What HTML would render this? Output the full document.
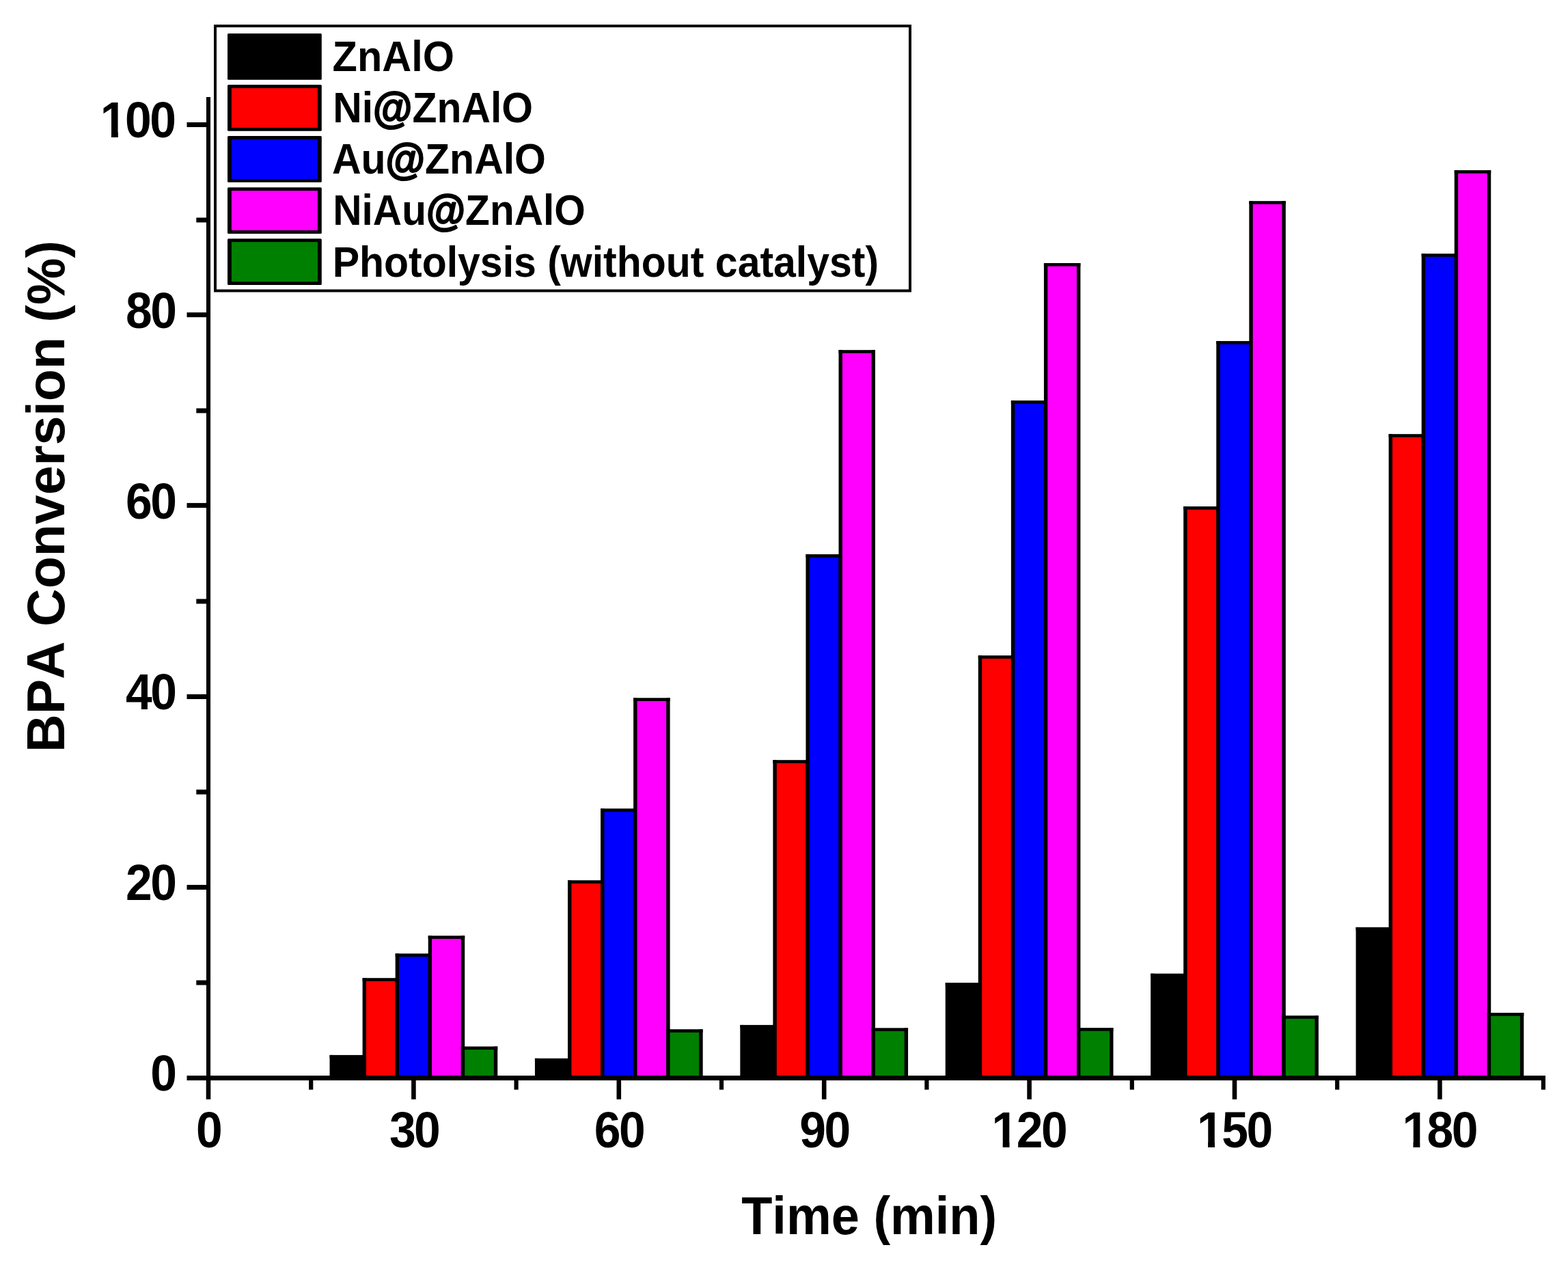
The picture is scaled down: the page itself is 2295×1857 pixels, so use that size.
<!DOCTYPE html>
<html><head><meta charset="utf-8"><title>BPA Conversion vs Time</title>
<style>
html,body{margin:0;padding:0;background:#fff;}
body{width:2295px;height:1857px;overflow:hidden;}
svg{display:block;}
text{font-family:"Liberation Sans",Arial,sans-serif;font-weight:bold;fill:#000;font-kerning:none;}
</style></head><body>
<svg width="2295" height="1857" viewBox="0 0 2295 1857">
<rect x="0" y="0" width="2295" height="1857" fill="#fff"/>
<g id="bars">
<rect x="485.24" y="1546.20" width="48.06" height="31.30" fill="#000000"/>
<rect x="482.54" y="1543.90" width="53.46" height="4.60" fill="#000"/>
<rect x="482.54" y="1543.90" width="5.40" height="33.60" fill="#000"/>
<rect x="530.60" y="1543.90" width="5.40" height="33.60" fill="#000"/>
<rect x="533.30" y="1433.50" width="48.06" height="144.00" fill="#ff0000"/>
<rect x="530.60" y="1431.20" width="53.46" height="4.60" fill="#000"/>
<rect x="530.60" y="1431.20" width="5.40" height="146.30" fill="#000"/>
<rect x="578.67" y="1431.20" width="5.40" height="146.30" fill="#000"/>
<rect x="581.37" y="1397.70" width="48.06" height="179.80" fill="#0000ff"/>
<rect x="578.67" y="1395.40" width="53.46" height="4.60" fill="#000"/>
<rect x="578.67" y="1395.40" width="5.40" height="182.10" fill="#000"/>
<rect x="626.73" y="1395.40" width="5.40" height="182.10" fill="#000"/>
<rect x="629.43" y="1371.60" width="48.06" height="205.90" fill="#ff00ff"/>
<rect x="626.73" y="1369.30" width="53.46" height="4.60" fill="#000"/>
<rect x="626.73" y="1369.30" width="5.40" height="208.20" fill="#000"/>
<rect x="674.80" y="1369.30" width="5.40" height="208.20" fill="#000"/>
<rect x="677.50" y="1533.70" width="48.06" height="43.80" fill="#008000"/>
<rect x="674.80" y="1531.40" width="53.46" height="4.60" fill="#000"/>
<rect x="674.80" y="1531.40" width="5.40" height="46.10" fill="#000"/>
<rect x="722.86" y="1531.40" width="5.40" height="46.10" fill="#000"/>
<rect x="785.64" y="1551.10" width="48.06" height="26.40" fill="#000000"/>
<rect x="782.94" y="1548.80" width="53.46" height="4.60" fill="#000"/>
<rect x="782.94" y="1548.80" width="5.40" height="28.70" fill="#000"/>
<rect x="831.00" y="1548.80" width="5.40" height="28.70" fill="#000"/>
<rect x="833.70" y="1290.50" width="48.06" height="287.00" fill="#ff0000"/>
<rect x="831.00" y="1288.20" width="53.46" height="4.60" fill="#000"/>
<rect x="831.00" y="1288.20" width="5.40" height="289.30" fill="#000"/>
<rect x="879.07" y="1288.20" width="5.40" height="289.30" fill="#000"/>
<rect x="881.77" y="1185.50" width="48.06" height="392.00" fill="#0000ff"/>
<rect x="879.07" y="1183.20" width="53.46" height="4.60" fill="#000"/>
<rect x="879.07" y="1183.20" width="5.40" height="394.30" fill="#000"/>
<rect x="927.13" y="1183.20" width="5.40" height="394.30" fill="#000"/>
<rect x="929.83" y="1023.60" width="48.06" height="553.90" fill="#ff00ff"/>
<rect x="927.13" y="1021.30" width="53.46" height="4.60" fill="#000"/>
<rect x="927.13" y="1021.30" width="5.40" height="556.20" fill="#000"/>
<rect x="975.20" y="1021.30" width="5.40" height="556.20" fill="#000"/>
<rect x="977.90" y="1508.50" width="48.06" height="69.00" fill="#008000"/>
<rect x="975.20" y="1506.20" width="53.46" height="4.60" fill="#000"/>
<rect x="975.20" y="1506.20" width="5.40" height="71.30" fill="#000"/>
<rect x="1023.26" y="1506.20" width="5.40" height="71.30" fill="#000"/>
<rect x="1086.04" y="1502.20" width="48.06" height="75.30" fill="#000000"/>
<rect x="1083.34" y="1499.90" width="53.46" height="4.60" fill="#000"/>
<rect x="1083.34" y="1499.90" width="5.40" height="77.60" fill="#000"/>
<rect x="1131.40" y="1499.90" width="5.40" height="77.60" fill="#000"/>
<rect x="1134.10" y="1114.50" width="48.06" height="463.00" fill="#ff0000"/>
<rect x="1131.40" y="1112.20" width="53.46" height="4.60" fill="#000"/>
<rect x="1131.40" y="1112.20" width="5.40" height="465.30" fill="#000"/>
<rect x="1179.47" y="1112.20" width="5.40" height="465.30" fill="#000"/>
<rect x="1182.17" y="813.40" width="48.06" height="764.10" fill="#0000ff"/>
<rect x="1179.47" y="811.10" width="53.46" height="4.60" fill="#000"/>
<rect x="1179.47" y="811.10" width="5.40" height="766.40" fill="#000"/>
<rect x="1227.53" y="811.10" width="5.40" height="766.40" fill="#000"/>
<rect x="1230.23" y="514.50" width="48.06" height="1063.00" fill="#ff00ff"/>
<rect x="1227.53" y="512.20" width="53.46" height="4.60" fill="#000"/>
<rect x="1227.53" y="512.20" width="5.40" height="1065.30" fill="#000"/>
<rect x="1275.60" y="512.20" width="5.40" height="1065.30" fill="#000"/>
<rect x="1278.30" y="1506.60" width="48.06" height="70.90" fill="#008000"/>
<rect x="1275.60" y="1504.30" width="53.46" height="4.60" fill="#000"/>
<rect x="1275.60" y="1504.30" width="5.40" height="73.20" fill="#000"/>
<rect x="1323.66" y="1504.30" width="5.40" height="73.20" fill="#000"/>
<rect x="1386.44" y="1440.40" width="48.06" height="137.10" fill="#000000"/>
<rect x="1383.74" y="1438.10" width="53.46" height="4.60" fill="#000"/>
<rect x="1383.74" y="1438.10" width="5.40" height="139.40" fill="#000"/>
<rect x="1431.80" y="1438.10" width="5.40" height="139.40" fill="#000"/>
<rect x="1434.50" y="961.50" width="48.06" height="616.00" fill="#ff0000"/>
<rect x="1431.80" y="959.20" width="53.46" height="4.60" fill="#000"/>
<rect x="1431.80" y="959.20" width="5.40" height="618.30" fill="#000"/>
<rect x="1479.87" y="959.20" width="5.40" height="618.30" fill="#000"/>
<rect x="1482.57" y="588.40" width="48.06" height="989.10" fill="#0000ff"/>
<rect x="1479.87" y="586.10" width="53.46" height="4.60" fill="#000"/>
<rect x="1479.87" y="586.10" width="5.40" height="991.40" fill="#000"/>
<rect x="1527.93" y="586.10" width="5.40" height="991.40" fill="#000"/>
<rect x="1530.63" y="387.30" width="48.06" height="1190.20" fill="#ff00ff"/>
<rect x="1527.93" y="385.00" width="53.46" height="4.60" fill="#000"/>
<rect x="1527.93" y="385.00" width="5.40" height="1192.50" fill="#000"/>
<rect x="1576.00" y="385.00" width="5.40" height="1192.50" fill="#000"/>
<rect x="1578.70" y="1506.40" width="48.06" height="71.10" fill="#008000"/>
<rect x="1576.00" y="1504.10" width="53.46" height="4.60" fill="#000"/>
<rect x="1576.00" y="1504.10" width="5.40" height="73.40" fill="#000"/>
<rect x="1624.06" y="1504.10" width="5.40" height="73.40" fill="#000"/>
<rect x="1686.84" y="1427.00" width="48.06" height="150.50" fill="#000000"/>
<rect x="1684.14" y="1424.70" width="53.46" height="4.60" fill="#000"/>
<rect x="1684.14" y="1424.70" width="5.40" height="152.80" fill="#000"/>
<rect x="1732.20" y="1424.70" width="5.40" height="152.80" fill="#000"/>
<rect x="1734.90" y="743.40" width="48.06" height="834.10" fill="#ff0000"/>
<rect x="1732.20" y="741.10" width="53.46" height="4.60" fill="#000"/>
<rect x="1732.20" y="741.10" width="5.40" height="836.40" fill="#000"/>
<rect x="1780.27" y="741.10" width="5.40" height="836.40" fill="#000"/>
<rect x="1782.97" y="501.40" width="48.06" height="1076.10" fill="#0000ff"/>
<rect x="1780.27" y="499.10" width="53.46" height="4.60" fill="#000"/>
<rect x="1780.27" y="499.10" width="5.40" height="1078.40" fill="#000"/>
<rect x="1828.33" y="499.10" width="5.40" height="1078.40" fill="#000"/>
<rect x="1831.03" y="296.50" width="48.06" height="1281.00" fill="#ff00ff"/>
<rect x="1828.33" y="294.20" width="53.46" height="4.60" fill="#000"/>
<rect x="1828.33" y="294.20" width="5.40" height="1283.30" fill="#000"/>
<rect x="1876.40" y="294.20" width="5.40" height="1283.30" fill="#000"/>
<rect x="1879.10" y="1488.50" width="48.06" height="89.00" fill="#008000"/>
<rect x="1876.40" y="1486.20" width="53.46" height="4.60" fill="#000"/>
<rect x="1876.40" y="1486.20" width="5.40" height="91.30" fill="#000"/>
<rect x="1924.46" y="1486.20" width="5.40" height="91.30" fill="#000"/>
<rect x="1987.24" y="1359.20" width="48.06" height="218.30" fill="#000000"/>
<rect x="1984.54" y="1356.90" width="53.46" height="4.60" fill="#000"/>
<rect x="1984.54" y="1356.90" width="5.40" height="220.60" fill="#000"/>
<rect x="2032.60" y="1356.90" width="5.40" height="220.60" fill="#000"/>
<rect x="2035.30" y="637.50" width="48.06" height="940.00" fill="#ff0000"/>
<rect x="2032.60" y="635.20" width="53.46" height="4.60" fill="#000"/>
<rect x="2032.60" y="635.20" width="5.40" height="942.30" fill="#000"/>
<rect x="2080.67" y="635.20" width="5.40" height="942.30" fill="#000"/>
<rect x="2083.37" y="373.50" width="48.06" height="1204.00" fill="#0000ff"/>
<rect x="2080.67" y="371.20" width="53.46" height="4.60" fill="#000"/>
<rect x="2080.67" y="371.20" width="5.40" height="1206.30" fill="#000"/>
<rect x="2128.73" y="371.20" width="5.40" height="1206.30" fill="#000"/>
<rect x="2131.43" y="251.40" width="48.06" height="1326.10" fill="#ff00ff"/>
<rect x="2128.73" y="249.10" width="53.46" height="4.60" fill="#000"/>
<rect x="2128.73" y="249.10" width="5.40" height="1328.40" fill="#000"/>
<rect x="2176.80" y="249.10" width="5.40" height="1328.40" fill="#000"/>
<rect x="2179.50" y="1484.40" width="48.06" height="93.10" fill="#008000"/>
<rect x="2176.80" y="1482.10" width="53.46" height="4.60" fill="#000"/>
<rect x="2176.80" y="1482.10" width="5.40" height="95.40" fill="#000"/>
<rect x="2224.86" y="1482.10" width="5.40" height="95.40" fill="#000"/>
</g>
<g id="axes" stroke="#000" stroke-linecap="butt" fill="none">
<line x1="305" y1="142" x2="305" y2="1581" stroke-width="6.1"/>
<line x1="302" y1="1577.5" x2="2262" y2="1577.5" stroke-width="7"/>
<line x1="273.5" y1="1577.5" x2="303" y2="1577.5" stroke-width="7"/>
<line x1="273.5" y1="1298.4" x2="303" y2="1298.4" stroke-width="7"/>
<line x1="273.5" y1="1019.5" x2="303" y2="1019.5" stroke-width="7"/>
<line x1="273.5" y1="739.6" x2="303" y2="739.6" stroke-width="7"/>
<line x1="273.5" y1="460.7" x2="303" y2="460.7" stroke-width="7"/>
<line x1="273.5" y1="182.5" x2="303" y2="182.5" stroke-width="7"/>
<line x1="287.3" y1="1438.0" x2="303" y2="1438.0" stroke-width="7"/>
<line x1="287.3" y1="1159.0" x2="303" y2="1159.0" stroke-width="7"/>
<line x1="287.3" y1="880.0" x2="303" y2="880.0" stroke-width="7"/>
<line x1="287.3" y1="601.0" x2="303" y2="601.0" stroke-width="7"/>
<line x1="287.3" y1="322.0" x2="303" y2="322.0" stroke-width="7"/>
<line x1="305.0" y1="1578" x2="305.0" y2="1608.7" stroke-width="6.6"/>
<line x1="605.4" y1="1578" x2="605.4" y2="1608.7" stroke-width="6.6"/>
<line x1="905.8" y1="1578" x2="905.8" y2="1608.7" stroke-width="6.6"/>
<line x1="1206.2" y1="1578" x2="1206.2" y2="1608.7" stroke-width="6.6"/>
<line x1="1506.6" y1="1578" x2="1506.6" y2="1608.7" stroke-width="6.6"/>
<line x1="1807.0" y1="1578" x2="1807.0" y2="1608.7" stroke-width="6.6"/>
<line x1="2107.4" y1="1578" x2="2107.4" y2="1608.7" stroke-width="6.6"/>
<line x1="455.2" y1="1578" x2="455.2" y2="1594.6" stroke-width="6.2"/>
<line x1="755.6" y1="1578" x2="755.6" y2="1594.6" stroke-width="6.2"/>
<line x1="1056.0" y1="1578" x2="1056.0" y2="1594.6" stroke-width="6.2"/>
<line x1="1356.4" y1="1578" x2="1356.4" y2="1594.6" stroke-width="6.2"/>
<line x1="1656.8" y1="1578" x2="1656.8" y2="1594.6" stroke-width="6.2"/>
<line x1="1957.2" y1="1578" x2="1957.2" y2="1594.6" stroke-width="6.2"/>
<line x1="2258.9" y1="1578" x2="2258.9" y2="1594.6" stroke-width="6.2"/>
</g>
<g id="yticklabels">
<text transform="translate(220.15 1596.10) scale(0.9470 1)" style="font-size:73.50px;letter-spacing:-2.64px;">0</text>
<text transform="translate(183.95 1316.90) scale(0.9470 1)" style="font-size:73.50px;letter-spacing:-2.64px;">20</text>
<text transform="translate(183.95 1037.90) scale(0.9470 1)" style="font-size:73.50px;letter-spacing:-2.64px;">40</text>
<text transform="translate(183.95 759.00) scale(0.9470 1)" style="font-size:73.50px;letter-spacing:-2.64px;">60</text>
<text transform="translate(183.95 479.90) scale(0.9470 1)" style="font-size:73.50px;letter-spacing:-2.64px;">80</text>
<text transform="translate(146.85 201.10) scale(0.9470 1)" style="font-size:73.50px;letter-spacing:-2.64px;">100</text>
<rect x="150.10" y="192.68" width="12.83" height="9.02" fill="#fff"/>
<rect x="172.82" y="192.68" width="11.64" height="9.02" fill="#fff"/>
</g>
<g id="xticklabels">
<text transform="translate(286.98 1679.10) scale(0.9470 1)" style="font-size:73.50px;letter-spacing:-2.64px;">0</text>
<text transform="translate(569.88 1679.10) scale(0.9470 1)" style="font-size:73.50px;letter-spacing:-2.64px;">30</text>
<text transform="translate(869.79 1679.10) scale(0.9470 1)" style="font-size:73.50px;letter-spacing:-2.64px;">60</text>
<text transform="translate(1170.26 1679.10) scale(0.9470 1)" style="font-size:73.50px;letter-spacing:-2.64px;">90</text>
<text transform="translate(1451.58 1679.10) scale(0.9470 1)" style="font-size:73.50px;letter-spacing:-2.64px;">120</text>
<rect x="1454.83" y="1670.68" width="12.83" height="9.02" fill="#fff"/>
<rect x="1477.55" y="1670.68" width="11.64" height="9.02" fill="#fff"/>
<text transform="translate(1751.98 1679.10) scale(0.9470 1)" style="font-size:73.50px;letter-spacing:-2.64px;">150</text>
<rect x="1755.23" y="1670.68" width="12.83" height="9.02" fill="#fff"/>
<rect x="1777.95" y="1670.68" width="11.64" height="9.02" fill="#fff"/>
<text transform="translate(2052.38 1679.10) scale(0.9470 1)" style="font-size:73.50px;letter-spacing:-2.64px;">180</text>
<rect x="2055.63" y="1670.68" width="12.83" height="9.02" fill="#fff"/>
<rect x="2078.35" y="1670.68" width="11.64" height="9.02" fill="#fff"/>
</g>
<text transform="translate(1085.19 1805.70) scale(0.9546 1)" style="font-size:77.50px;">Time (min)</text>
<text transform="translate(93.9 1100.96) rotate(-90) scale(0.9941 1)" style="font-size:77.50px;">BPA Conversion (%)</text>
<g id="legend">
<rect x="315" y="38" width="1017" height="387.5" fill="#fff" stroke="#000" stroke-width="4"/>
<rect x="333" y="49.00" width="137.8" height="67.70" fill="#000" rx="1.5"/>
<rect x="338.85" y="53.80" width="126.1" height="58.10" fill="#000000"/>
<rect x="333" y="124.10" width="137.8" height="67.70" fill="#000" rx="1.5"/>
<rect x="338.85" y="128.90" width="126.1" height="58.10" fill="#ff0000"/>
<rect x="333" y="199.10" width="137.8" height="67.70" fill="#000" rx="1.5"/>
<rect x="338.85" y="203.90" width="126.1" height="58.10" fill="#0000ff"/>
<rect x="333" y="274.20" width="137.8" height="67.70" fill="#000" rx="1.5"/>
<rect x="338.85" y="279.00" width="126.1" height="58.10" fill="#ff00ff"/>
<rect x="333" y="349.30" width="137.8" height="67.70" fill="#000" rx="1.5"/>
<rect x="338.85" y="354.10" width="126.1" height="58.10" fill="#008000"/>
<text transform="translate(486.62 103.90) scale(0.9433 1)" style="font-size:63.00px;">ZnAlO</text>
<text transform="translate(487.26 179.10) scale(0.9342 1)" style="font-size:63.00px;">Ni<tspan style="stroke:#000;stroke-width:2.2px;stroke-linejoin:round;">@</tspan>ZnAlO</text>
<text transform="translate(485.93 253.80) scale(0.9365 1)" style="font-size:63.00px;">Au<tspan style="stroke:#000;stroke-width:2.2px;stroke-linejoin:round;">@</tspan>ZnAlO</text>
<text transform="translate(487.27 329.10) scale(0.9300 1)" style="font-size:63.00px;">NiAu<tspan style="stroke:#000;stroke-width:2.2px;stroke-linejoin:round;">@</tspan>ZnAlO</text>
<text transform="translate(486.65 405.10) scale(0.9361 1)" style="font-size:63.00px;">Photolysis (without catalyst)</text>
</g>
</svg>
</body></html>
